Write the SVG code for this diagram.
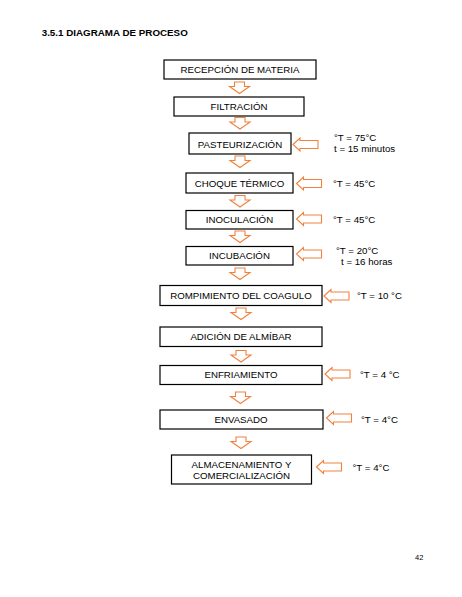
<svg xmlns="http://www.w3.org/2000/svg" xmlns:xlink="http://www.w3.org/1999/xlink" width="462" height="597" viewBox="0 0 462 597">
<style>
.bg{fill:#ffffff}
.box{fill:#ffffff;stroke:#000000;stroke-width:1.2}
.t{font-family:"Liberation Sans",Arial,sans-serif;font-size:9.7px;fill:#000000;text-anchor:middle}
.s{font-family:"Liberation Sans",Arial,sans-serif;font-size:9.7px;fill:#000000}
.title{font-family:"Liberation Sans",Arial,sans-serif;font-size:9.8px;font-weight:bold;fill:#000000}
.arr{fill:#ffffff;stroke:#F0823E;stroke-width:1.1;stroke-linejoin:miter}
</style>
<defs>
<path id="dn" d="M-5,0 L5,0 L5,4.5 L10,4.5 L0,11.5 L-10,4.5 L-5,4.5 Z"/>
<path id="lf" d="M0,0 L7,-6.5 L7,-4 L25,-4 L25,4 L7,4 L7,6.5 Z"/>
</defs>
<rect class="bg" x="0" y="0" width="462" height="597"/>
<text class="title" x="41.7" y="35.5">3.5.1 DIAGRAMA DE PROCESO</text>

<g id="connectors">
<use class="arr" xlink:href="#dn" href="#dn" transform="translate(239.5,82)"/>
<use class="arr" xlink:href="#dn" href="#dn" transform="translate(240,117.5)"/>
<use class="arr" xlink:href="#dn" href="#dn" transform="translate(240,156)"/>
<use class="arr" xlink:href="#dn" href="#dn" transform="translate(240,195.5)"/>
<use class="arr" xlink:href="#dn" href="#dn" transform="translate(240,231)"/>
<use class="arr" xlink:href="#dn" href="#dn" transform="translate(240,268)"/>
<use class="arr" xlink:href="#dn" href="#dn" transform="translate(241,308)"/>
<use class="arr" xlink:href="#dn" href="#dn" transform="translate(241,350.5)"/>
<use class="arr" xlink:href="#dn" href="#dn" transform="translate(240.5,392)"/>
<use class="arr" xlink:href="#dn" href="#dn" transform="translate(241,437)"/>
<use class="arr" xlink:href="#lf" href="#lf" transform="translate(293,144.5)"/>
<use class="arr" xlink:href="#lf" href="#lf" transform="translate(296.5,183.5)"/>
<use class="arr" xlink:href="#lf" href="#lf" transform="translate(296.5,219)"/>
<use class="arr" xlink:href="#lf" href="#lf" transform="translate(296.5,254)"/>
<use class="arr" xlink:href="#lf" href="#lf" transform="translate(324,296)"/>
<use class="arr" xlink:href="#lf" href="#lf" transform="translate(325,374)"/>
<use class="arr" xlink:href="#lf" href="#lf" transform="translate(326.5,418)"/>
<use class="arr" xlink:href="#lf" href="#lf" transform="translate(316.5,467)"/>
</g>

<g id="n1"><rect class="box" x="164" y="60" width="152" height="19"/><text class="t" x="240" y="73.3">RECEPCIÓN DE MATERIA</text></g>
<g id="n2"><rect class="box" x="174" y="97" width="130" height="19"/><text class="t" x="239" y="110">FILTRACIÓN</text></g>
<g id="n3"><rect class="box" x="189" y="133" width="102" height="21"/><text class="t" x="240" y="147.5">PASTEURIZACIÓN</text></g>
<g id="n4"><rect class="box" x="186" y="173" width="107" height="20"/><text class="t" x="239.5" y="186.7">CHOQUE TÉRMICO</text></g>
<g id="n5"><rect class="box" x="186" y="210.5" width="107" height="18.5"/><text class="t" x="239.5" y="222.5">INOCULACIÓN</text></g>
<g id="n6"><rect class="box" x="186" y="246.5" width="107" height="18.5"/><text class="t" x="239.5" y="258.5">INCUBACIÓN</text></g>
<g id="n7"><rect class="box" x="160" y="285.5" width="162" height="20"/><text class="t" x="241" y="298.5">ROMPIMIENTO DEL COAGULO</text></g>
<g id="n8"><rect class="box" x="160" y="327" width="162" height="19.5"/><text class="t" x="241" y="340">ADICIÓN DE ALMÍBAR</text></g>
<g id="n9"><rect class="box" x="160" y="365.5" width="162" height="19"/><text class="t" x="241" y="378">ENFRIAMIENTO</text></g>
<g id="n10"><rect class="box" x="160" y="410" width="163" height="19"/><text class="t" x="241" y="422.5">ENVASADO</text></g>
<g id="n11"><rect class="box" x="171.5" y="455" width="140" height="29"/><text class="t" x="241.5" y="468">ALMACENAMIENTO Y</text><text class="t" x="241.5" y="478.5">COMERCIALIZACIÓN</text></g>

<g id="labels">
<text class="s" x="334" y="141">°T = 75°C</text>
<text class="s" x="334" y="152">t = 15 minutos</text>
<text class="s" x="333" y="187">°T = 45°C</text>
<text class="s" x="333" y="222.5">°T = 45°C</text>
<text class="s" x="336" y="253.5">°T = 20°C</text>
<text class="s" x="341" y="265">t = 16 horas</text>
<text class="s" x="357" y="299">°T = 10 °C</text>
<text class="s" x="360" y="378">°T = 4 °C</text>
<text class="s" x="361" y="422.5">°T = 4°C</text>
<text class="s" x="352.5" y="471">°T = 4°C</text>
</g>
<text class="s" x="415" y="560" style="font-size:7.5px">42</text>
</svg>
